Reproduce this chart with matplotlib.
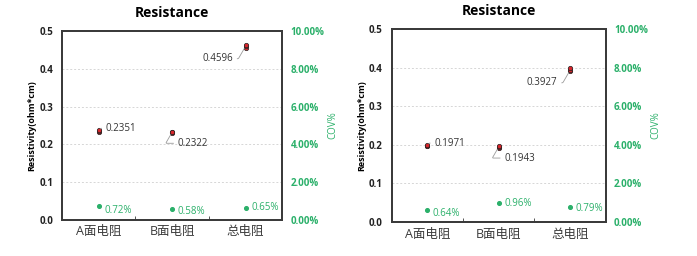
import matplotlib
matplotlib.use("Agg")
import matplotlib.pyplot as plt
from matplotlib.ticker import PercentFormatter

plt.rcParams['font.family'] = ['Open Sans', 'Noto Sans CJK SC', 'DejaVu Sans']

categories = ["A面电阻", "B面电阻", "总电阻"]

# left batch: individual readings, means and COV (%)
left_samples = [
    [0.2332, 0.2351, 0.2368],
    [0.2305, 0.2322, 0.2336],
    [0.4560, 0.4596, 0.4630],
]
left_mean = [0.2351, 0.2322, 0.4596]
left_cov = [0.72, 0.58, 0.65]

# right batch
right_samples = [
    [0.1958, 0.1971, 0.1984],
    [0.1925, 0.1943, 0.1962],
    [0.3905, 0.3927, 0.3990],
]
right_mean = [0.1971, 0.1943, 0.3927]
right_cov = [0.64, 0.96, 0.79]

# label offsets (points) for the mean values and COV values
left_offsets = [(5, 2), (4, -8), (-9, -9)]
right_offsets = [(5, 2), (4, -8), (-9, -9)]
left_cov_offsets = [(4, -3), (4, -2), (4, 0)]
right_cov_offsets = [(4, -3), (4, 0), (4, -1)]

GREEN = "#2bb06a"
RED = "#d8262c"
SPINE = "#3a3a3a"


def draw_panel(ax, samples, means, covs, offsets, cov_offsets):
    x = range(len(categories))
    for i, vals in enumerate(samples):
        ax.scatter([i] * len(vals), vals, s=10, marker="o", color=RED, edgecolor="#222222",
                   linewidth=0.5, zorder=3)
    for i, m in enumerate(means):
        dx, dy = offsets[i]
        ax.annotate(f"{m:.4f}", xy=(i, m), xytext=(dx, dy), textcoords="offset points",
                    ha="left" if dx > 0 else "right", va="center", fontsize=7,
                    color="#333333",
                    arrowprops=dict(arrowstyle="-", color="#9a9a9a", lw=0.6,
                                    connectionstyle="angle,angleA=0,angleB=60,rad=1",
                                    shrinkA=1, shrinkB=2))
    ax.set_xlim(-0.5, 2.5)
    ax.set_ylim(0, 0.5)
    ax.set_yticks([0, 0.1, 0.2, 0.3, 0.4, 0.5])
    ax.set_yticklabels(["0.0", "0.1", "0.2", "0.3", "0.4", "0.5"],
                       fontsize=7, fontweight="bold", color="#222222")
    ax.set_xticks(list(x))
    ax.set_xticklabels(categories, fontsize=9, color="#3a3a3a")
    ax.set_xticks([0.5, 1.5], minor=True)
    ax.tick_params(axis="x", which="major", length=0, pad=4)
    ax.tick_params(axis="x", which="minor", length=3, direction="in", color=SPINE)
    ax.tick_params(axis="y", length=0, pad=6.5)
    for y in [0.1, 0.2, 0.3, 0.4]:
        ax.axhline(y, color="#d6d6d6", lw=0.7, ls=(0, (2, 2)), zorder=0)
    for sp in ax.spines.values():
        sp.set_color(SPINE)
        sp.set_linewidth(1.3)
    ax.set_ylabel("Resistivity(ohm*cm)", fontsize=6.5, fontweight="bold", labelpad=2)
    ax.set_title("Resistance", fontsize=10, fontweight="bold", pad=10)

    ax2 = ax.twinx()
    ax2.scatter(list(x), covs, s=7, color=GREEN, zorder=3)
    for i, c in enumerate(covs):
        dx, dy = cov_offsets[i]
        ax2.annotate(f"{c:.2f}%", xy=(i, c), xytext=(dx, dy), textcoords="offset points",
                     ha="left", va="center", fontsize=7, color=GREEN)
    ax2.set_ylim(0, 10)
    ax2.set_yticks([0, 2, 4, 6, 8, 10])
    ax2.yaxis.set_major_formatter(PercentFormatter(decimals=2))
    ax2.tick_params(axis="y", length=0, pad=6, labelsize=7, labelcolor=GREEN)
    for lab in ax2.get_yticklabels():
        lab.set_fontweight("bold")
    ax2.set_ylabel("COV%", fontsize=7, color=GREEN, labelpad=2)
    for sp in ax2.spines.values():
        sp.set_color(SPINE)
        sp.set_linewidth(1.3)


fig = plt.figure(figsize=(6.97, 2.56), dpi=100)
ax_l = fig.add_axes([0.089, 0.141, 0.316, 0.738])
ax_r = fig.add_axes([0.562, 0.133, 0.307, 0.754])

draw_panel(ax_l, left_samples, left_mean, left_cov, left_offsets, left_cov_offsets)
draw_panel(ax_r, right_samples, right_mean, right_cov, right_offsets, right_cov_offsets)

fig.savefig("out.png", dpi=100, facecolor="white")
